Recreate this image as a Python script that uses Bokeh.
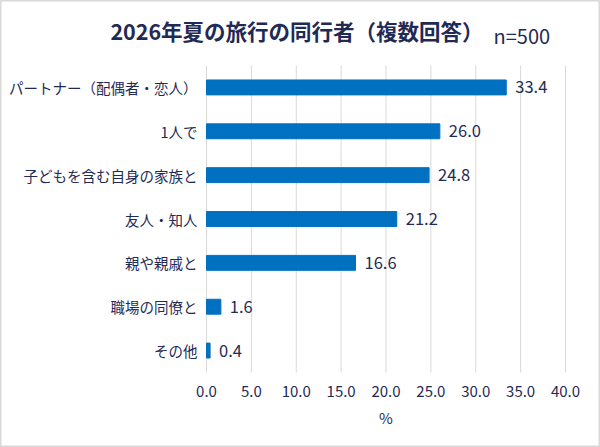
from bokeh.plotting import figure
from bokeh.models import ColumnDataSource, Label, Range1d
from bokeh.embed import file_html
from bokeh.resources import INLINE
from bokeh.core.properties import value

categories = ["パートナー（配偶者・恋人）", "1人で", "子どもを含む自身の家族と", "友人・知人",
              "親や親戚と", "職場の同僚と", "その他"]
values = [33.4, 26.0, 24.8, 21.2, 16.6, 1.6, 0.4]
ticks = [0, 5, 10, 15, 20, 25, 30, 35, 40]
tick_labels = [f"{t:.1f}" for t in ticks]
axis_title = "%"
title_text = "2026年夏の旅行の同行者（複数回答）"
n_text = "n=500"

FONT = "Noto Sans CJK JP"
NAVY = "#1f2a55"

W, H = 600, 447
X0, X40 = 206, 565               # canvas x of 0 and 40 on the value scale
GRID_TOP, GRID_BOT = 65, 372     # canvas y span of the bar area
XMAX = 40
NC = len(categories)
PXU = (GRID_BOT - GRID_TOP) / NC # pixels per category band
PXX = (X40 - X0) / XMAX
Y_TOP = -0.5 - GRID_TOP / PXU


def to_data(cx, cy):
    # canvas pixel (from top-left) -> data coordinates
    return (cx - X0) / PXX, Y_TOP + cy / PXU


pos = list(range(NC))
src = ColumnDataSource(dict(pos=pos, val=values, cat=categories,
                            zero=[0] * NC, lab=[f"{v:.1f}" for v in values]))

p = figure(width=W, height=H, x_range=Range1d(-X0 / PXX, (W - X0) / PXX),
           y_range=Range1d(Y_TOP + H / PXU, Y_TOP),
           x_axis_location=None, y_axis_location=None,
           output_backend="svg", toolbar_location=None,
           min_border_left=0, min_border_right=0, min_border_top=0, min_border_bottom=0)
p.outline_line_color = "#d9d9d9"
p.outline_line_width = 2
p.background_fill_color = "white"
p.border_fill_color = "white"
p.xgrid.visible = False
p.ygrid.visible = False

# vertical grid lines only across the bar area
p.segment(x0=ticks, x1=ticks, y0=[-0.5] * len(ticks), y1=[NC - 0.5] * len(ticks),
          line_color="#d9d9d9", line_width=1)
p.hbar(y="pos", right="val", left=0, height=0.34, source=src, color="#0070C0")
p.text(x="val", y="pos", text="lab", source=src, x_offset=9, text_baseline="middle",
       text_align="left", text_font=value(FONT), text_font_size="16.5px", text_color=NAVY)
# category labels
p.text(x="zero", y="pos", text="cat", source=src, x_offset=-9, text_baseline="middle",
       text_align="right", text_font=value(FONT), text_font_size="14.5px", text_color=NAVY)

# value axis tick labels and title
_, tick_y = to_data(0, 391)
p.text(x=ticks, y=[tick_y] * len(ticks), text=tick_labels, text_align="center",
       text_baseline="middle", text_font=value(FONT), text_font_size="15px",
       text_color=NAVY)
ax, ay = to_data(385.5, 417)
p.add_layout(Label(x=ax, y=ay, text=axis_title, text_align="center", text_baseline="middle",
                   text_font=FONT, text_font_size="15px", text_color=NAVY))

tx, ty = to_data(296.5, 30)
nx, ny = to_data(493, 35)
p.add_layout(Label(x=tx, y=ty, text=title_text, text_align="center", text_baseline="middle",
                   text_font=FONT, text_font_style="bold", text_font_size="21.5px",
                   text_color=NAVY))
p.add_layout(Label(x=nx, y=ny, text=n_text, text_align="left", text_baseline="middle",
                   text_font=FONT, text_font_size="20px", text_color=NAVY))

open("out.html", "w").write(file_html(p, INLINE))
